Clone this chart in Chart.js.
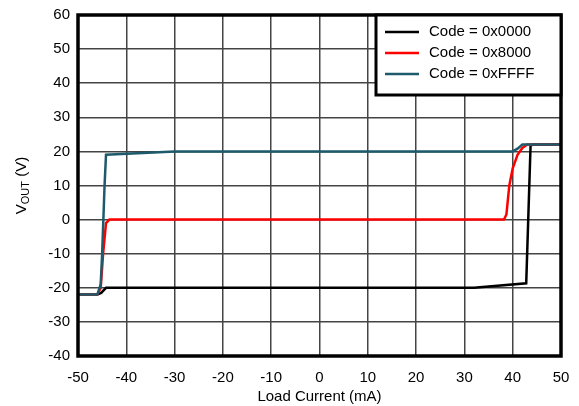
<!DOCTYPE html>
<html>
<head>
<meta charset="utf-8">
<script src="https://cdn.jsdelivr.net/npm/chart.js@4/dist/chart.umd.min.js"></script>
<style>
  html, body { margin: 0; padding: 0; background: #fff; }
  #wrap { width: 579px; height: 406px; }
</style>
</head>
<body>
<div id="wrap"><canvas id="chart"></canvas></div>
<script>
// Data
const seriesNames = ['Code = 0x0000', 'Code = 0x8000', 'Code = 0xFFFF'];
const seriesColors = ['#000000', '#ff0000', '#1d5b6c'];

const code0000X = [-50, -46, -45.2, -44.2, 32, 42.8, 43.7, 44.5, 50];
const code0000Y = [-22, -22, -21.5, -20, -20, -18.7, 21.8, 22, 22];

const code8000X = [-50, -46, -45.3, -44.8, -44.2, -43.5, 38.2, 38.7, 39.3, 40, 41, 42, 43, 50];
const code8000Y = [-22, -22, -20, -10, -1, 0, 0, 1.5, 10, 15, 19, 21, 22, 22];

const codeFFFFX = [-50, -46, -45.3, -45, -44.5, -44.2, -30, 40, 41, 42, 50];
const codeFFFFY = [-22, -22, -19, -10, 10, 19, 20, 20, 20.8, 22, 22];

const xTicks = [-50, -40, -30, -20, -10, 0, 10, 20, 30, 40, 50];
const yTicks = [-40, -30, -20, -10, 0, 10, 20, 30, 40, 50, 60];

const FONT = 'Liberation Sans, Arial, sans-serif';

function toPoints(xs, ys) {
  return xs.map((x, i) => ({ x: x, y: ys[i] }));
}

const allX = [code0000X, code8000X, codeFFFFX];
const allY = [code0000Y, code8000Y, codeFFFFY];

const datasets = seriesNames.map((name, i) => ({
  label: name,
  data: toPoints(allX[i], allY[i]),
  borderColor: seriesColors[i],
  backgroundColor: seriesColors[i],
  borderWidth: 2.5,
  pointRadius: 0,
  showLine: true,
  tension: 0,
  order: 3 - i
}));

// frame, legend box and y title
const decorPlugin = {
  id: 'decor',
  afterDatasetsDraw(chart) {
    const ctx = chart.ctx;
    const a = chart.chartArea;
    ctx.save();
    ctx.strokeStyle = '#000';
    ctx.lineWidth = 3.5;
    ctx.strokeRect(a.left, a.top, a.right - a.left, a.bottom - a.top);

    // legend box in top right corner
    const bw = 185, bh = 80;
    const bx = a.right - bw, by = a.top;
    ctx.fillStyle = '#fff';
    ctx.fillRect(bx, by, bw, bh);
    ctx.lineWidth = 3;
    ctx.strokeRect(bx, by, bw, bh);
    ctx.font = '15px ' + FONT;
    ctx.textBaseline = 'middle';
    ctx.textAlign = 'left';
    seriesNames.forEach((name, i) => {
      const y = by + 17 + i * 21;
      ctx.strokeStyle = seriesColors[i];
      ctx.lineWidth = 2.5;
      ctx.beginPath();
      ctx.moveTo(bx + 9, y);
      ctx.lineTo(bx + 43, y);
      ctx.stroke();
      ctx.fillStyle = '#000';
      ctx.fillText(name, bx + 53, y);
    });
    ctx.restore();

    // y axis title with subscript
    ctx.save();
    ctx.translate(22, (a.top + a.bottom) / 2);
    ctx.rotate(-Math.PI / 2);
    ctx.fillStyle = '#000';
    ctx.textBaseline = 'middle';
    ctx.textAlign = 'left';
    const big = '15px ' + FONT, small = '11px ' + FONT;
    ctx.font = big;
    const wV = ctx.measureText('V').width;
    const wRest = ctx.measureText(' (V)').width;
    ctx.font = small;
    const wSub = ctx.measureText('OUT').width;
    let x0 = -(wV + wSub + wRest) / 2;
    ctx.font = big;
    ctx.fillText('V', x0, 0);
    ctx.font = small;
    ctx.fillText('OUT', x0 + wV, 4);
    ctx.font = big;
    ctx.fillText(' (V)', x0 + wV + wSub, 0);
    ctx.restore();
  }
};

new Chart(document.getElementById('chart'), {
  type: 'scatter',
  data: { datasets: datasets },
  options: {
    responsive: true,
    maintainAspectRatio: false,
    animation: false,
    layout: { padding: { top: 15, right: 18, left: 0, bottom: 0 } },
    plugins: {
      legend: { display: false },
      tooltip: { enabled: false }
    },
    scales: {
      x: {
        type: 'linear',
        min: -50,
        max: 50,
        afterBuildTicks: (scale) => { scale.ticks = xTicks.map(v => ({ value: v })); },
        afterFit: (scale) => {
          scale.height = 50;
          scale.paddingLeft = 0;
          scale.paddingRight = 0;
        },
        grid: { color: '#444', lineWidth: 1.5, drawTicks: false },
        border: { display: false },
        ticks: { color: '#000', font: { family: FONT, size: 15 }, padding: 13 },
        title: {
          display: true,
          text: 'Load Current (mA)',
          color: '#000',
          font: { family: FONT, size: 15 },
          padding: { top: 0, bottom: 0 }
        }
      },
      y: {
        type: 'linear',
        min: -40,
        max: 60,
        afterBuildTicks: (scale) => { scale.ticks = yTicks.map(v => ({ value: v })); },
        afterFit: (scale) => {
          scale.width = 78;
          scale.paddingTop = 0;
          scale.paddingBottom = 0;
        },
        grid: { color: '#444', lineWidth: 1.5, drawTicks: false },
        border: { display: false },
        ticks: { color: '#000', font: { family: FONT, size: 15 }, padding: 8 }
      }
    }
  },
  plugins: [decorPlugin]
});
</script>
</body>
</html>
